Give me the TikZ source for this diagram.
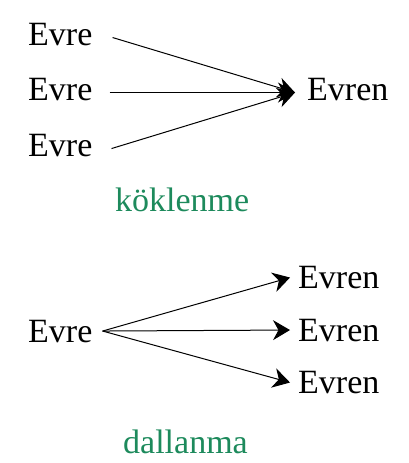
\documentclass[tikz,border=0pt]{standalone}
\usepackage{fontspec}
\setmainfont{Liberation Serif}
\usetikzlibrary{arrows.meta}
\definecolor{labelgreen}{RGB}{29,138,92}
\begin{document}
\begin{tikzpicture}[x=1pt,y=-1pt,
  word/.style={inner sep=0pt,anchor=base west,font=\fontsize{34}{40}\selectfont},
  tag/.style={word,text=labelgreen},
  link/.style={line width=1pt,-{Stealth[length=17pt,width=20pt,inset=5.5pt]}}]
  \useasboundingbox (0,0) rectangle (409,463);

  % koklenme
  \node[word] (e1) at (28,45){Evre};
  \node[word] (e2) at (28,100){Evre};
  \node[word] (e3) at (28,156){Evre};
  \node[word] (n0) at (307,100){Evren};
  \node[tag] (kok) at (115,211){köklenme};

  \path[link]
    ([xshift=20pt,yshift=-3.5pt]e1.east) edge ([xshift=-12pt,yshift=-3.5pt]n0.west)
    ([xshift=17pt,yshift=-3.5pt]e2.east) edge ([xshift=-12pt,yshift=-3.5pt]n0.west)
    ([xshift=19pt,yshift=-3.5pt]e3.east) edge ([xshift=-12pt,yshift=-3.5pt]n0.west);

  % dallanma
  \node[word] (e0) at (28,342){Evre};
  \node[word] (n1) at (298,288.5){Evren};
  \node[word] (n2) at (298,341){Evren};
  \node[word] (n3) at (298,393.5){Evren};
  \node[tag] (dal) at (123,453){dallanma};

  \path[link]
    ([xshift=10pt]e0.east) edge ([xshift=-8pt]n1.west)
    ([xshift=10pt]e0.east) edge ([xshift=-8pt]n2.west)
    ([xshift=10pt]e0.east) edge ([xshift=-8pt]n3.west);
\end{tikzpicture}
\end{document}
